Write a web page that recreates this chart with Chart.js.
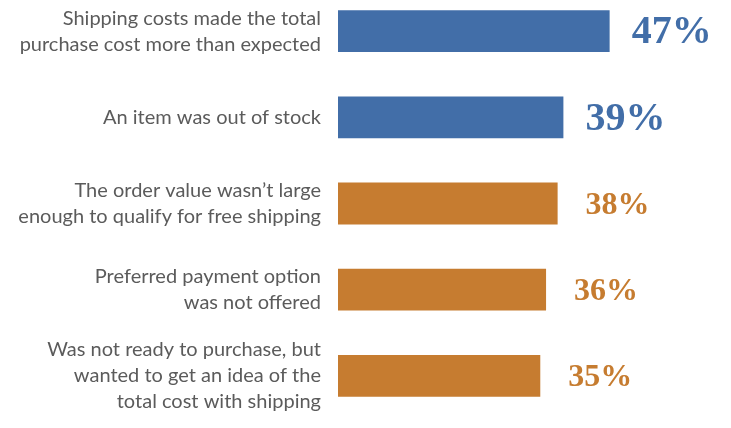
<!DOCTYPE html>
<html>
<head>
<meta charset="utf-8">
<script src="https://cdn.jsdelivr.net/npm/chart.js@4"></script>
<style>
  html, body { margin: 0; padding: 0; background: #fff; }
  #frame { width: 731px; height: 428px; overflow: hidden; position: relative; }
  #wrap { width: 731px; height: 440px; position: absolute; left: 0; top: -12px; }
</style>
</head>
<body>
<div id="frame"><div id="wrap"><canvas id="chart"></canvas></div></div>
<script>
const reasons = [
  ["Shipping costs made the total", "purchase cost more than expected"],
  ["An item was out of stock"],
  ["The order value wasn\u2019t large", "enough to qualify for free shipping"],
  ["Preferred payment option", "was not offered"],
  ["Was not ready to purchase, but", "wanted to get an idea of the", "total cost with shipping"]
];
const shares = [47, 39, 38, 36, 35];

const blue = "#426ea8";
const orange = "#c67c30";
const barColors = shares.map((v, i) => i < 2 ? blue : orange);

// draws the big serif percentages to the right of each bar
const valueLabels = {
  id: "valueLabels",
  afterDatasetsDraw(chart) {
    const ctx = chart.ctx;
    const meta = chart.getDatasetMeta(0);
    ctx.save();
    ctx.textBaseline = "middle";
    ctx.textAlign = "left";
    meta.data.forEach((bar, i) => {
      const big = i < 2;
      ctx.font = "bold " + (big ? 40 : 32) + "px 'Liberation Serif', serif";
      ctx.fillStyle = barColors[i];
      ctx.fillText(shares[i] + "%", bar.x + (big ? 22 : 28), bar.y + 2);
    });
    ctx.restore();
  }
};

new Chart(document.getElementById("chart"), {
  type: "bar",
  data: {
    labels: reasons,
    datasets: [{
      data: shares,
      backgroundColor: barColors,
      borderWidth: 0,
      barPercentage: 0.97,
      categoryPercentage: 0.5
    }]
  },
  options: {
    indexAxis: "y",
    responsive: true,
    maintainAspectRatio: false,
    animation: false,
    layout: { padding: { top: 0, bottom: 9, left: 0, right: 0 } },
    plugins: { legend: { display: false }, tooltip: { enabled: false } },
    scales: {
      x: { display: false, min: 0, max: 68 },
      y: {
        grid: { display: false },
        border: { display: false },
        afterFit(scale) {
          scale.width = 338;
          scale.paddingTop = 0;
          scale.paddingBottom = 0;
        },
        ticks: {
          padding: 9,
          color: "#5b5b5b",
          font: { family: "Lato", size: 20, lineHeight: 1.3 }
        }
      }
    }
  },
  plugins: [valueLabels]
});
</script>
</body>
</html>
